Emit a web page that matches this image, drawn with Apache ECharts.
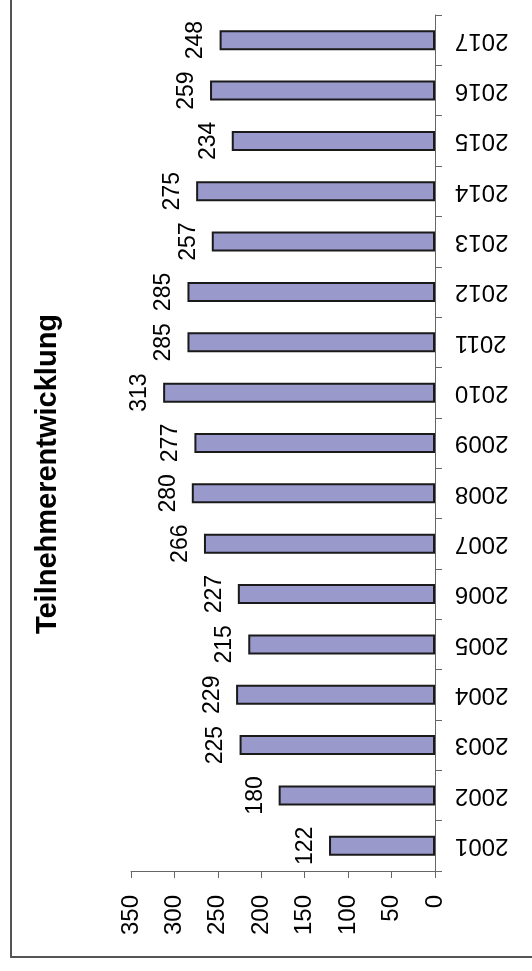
<!DOCTYPE html>
<html>
<head>
<meta charset="utf-8">
<script src="https://cdn.jsdelivr.net/npm/echarts@6/dist/echarts.min.js"></script>
<style>
  html, body { margin: 0; padding: 0; background: #fff; }
  #chart { width: 532px; height: 971px; }
</style>
</head>
<body>
<div id="chart"></div>
<script>
const years = ['2001', '2002', '2003', '2004', '2005', '2006', '2007', '2008', '2009',
  '2010', '2011', '2012', '2013', '2014', '2015', '2016', '2017'];
const participants = [122, 180, 225, 229, 215, 227, 266, 280, 277, 313, 285, 285, 257, 275, 234, 259, 248];
const titleText = 'Teilnehmerentwicklung';

const font = "'Liberation Sans', Arial, sans-serif";
const myChart = echarts.init(document.getElementById('chart'));

const option = {
  animation: false,
  backgroundColor: '#fff',
  graphic: [
    // Rahmen (oben und rechts abgeschnitten)
    {
      type: 'rect',
      shape: { x: 11, y: -10, width: 600, height: 967 },
      style: { fill: 'none', stroke: '#555', lineWidth: 2 }
    },
    {
      type: 'text',
      x: 48,
      y: 474,
      rotation: Math.PI / 2,
      style: {
        text: titleText,
        font: 'bold 29px ' + font,
        fill: '#000',
        textAlign: 'center',
        textVerticalAlign: 'middle'
      }
    }
  ],
  grid: {
    left: 131,
    right: 97,
    top: 15,
    bottom: 100,
    containLabel: false
  },
  xAxis: {
    type: 'value',
    inverse: true,
    min: 0,
    max: 350,
    interval: 50,
    splitLine: { show: false },
    axisLine: { show: true, lineStyle: { color: '#666', width: 1 } },
    axisTick: { show: true, length: 7, lineStyle: { color: '#666' } },
    axisLabel: {
      rotate: 90,
      margin: 24,
      fontSize: 24,
      fontFamily: font,
      color: '#000'
    }
  },
  yAxis: {
    type: 'category',
    position: 'right',
    data: years,
    axisLine: { show: true, lineStyle: { color: '#666', width: 1 } },
    axisTick: { show: true, length: 7, lineStyle: { color: '#666' } },
    axisLabel: {
      rotate: 180,
      margin: 20,
      fontSize: 24,
      fontFamily: font,
      color: '#000'
    }
  },
  series: [
    {
      type: 'bar',
      data: participants,
      barWidth: 20,
      itemStyle: {
        color: '#9999CC',
        borderColor: '#1a1a1a',
        borderWidth: 2
      },
      label: {
        show: true,
        position: 'left',
        distance: 12,
        rotate: 90,
        align: 'center',
        verticalAlign: 'bottom',
        fontSize: 23,
        fontFamily: font,
        color: '#000'
      }
    }
  ]
};
option && myChart.setOption(option);
</script>
</body>
</html>
